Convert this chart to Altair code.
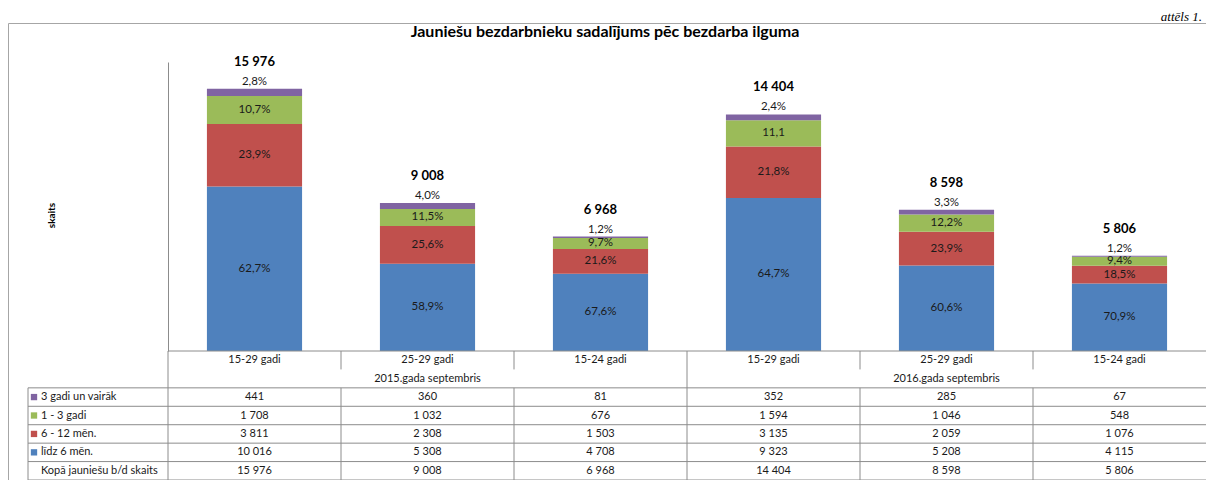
import altair as alt
import pandas as pd

FONT = "Lato"
GRID = "#8c8c8c"

title_text = "Jauniešu bezdarbnieku sadalījums pēc bezdarba ilguma"
caption_text = "attēls 1."
y_title = "skaits"

age_groups = ["15-29 gadi", "25-29 gadi", "15-24 gadi", "15-29 gadi", "25-29 gadi", "15-24 gadi"]
periods = ["2015.gada septembris", "2016.gada septembris"]

series_names = ["līdz 6 mēn.", "6 - 12 mēn.", "1 - 3 gadi", "3 gadi un vairāk"]
series_colors = ["#4F81BD", "#C0504D", "#9BBB59", "#8064A2"]

upto6 = [10016, 5308, 4708, 9323, 5208, 4115]
m6_12 = [3811, 2308, 1503, 3135, 2059, 1076]
y1_3 = [1708, 1032, 676, 1594, 1046, 548]
y3plus = [441, 360, 81, 352, 285, 67]
totals = [15976, 9008, 6968, 14404, 8598, 5806]

upto6_pct = ["62,7%", "58,9%", "67,6%", "64,7%", "60,6%", "70,9%"]
m6_12_pct = ["23,9%", "25,6%", "21,6%", "21,8%", "23,9%", "18,5%"]
y1_3_pct = ["10,7%", "11,5%", "9,7%", "11,1", "12,2%", "9,4%"]
y3plus_pct = ["2,8%", "4,0%", "1,2%", "2,4%", "3,3%", "1,2%"]

total_row_label = "Kopā jauniešu b/d skaits"


def fmt(v):
    return f"{v:,}".replace(",", " ")


keys = [str(i) for i in range(len(age_groups))]

# long data for bars
recs = []
for s_idx, (name, vals, pcts) in enumerate(zip(series_names, [upto6, m6_12, y1_3, y3plus],
                                                [upto6_pct, m6_12_pct, y1_3_pct, y3plus_pct])):
    for i in range(len(keys)):
        recs.append(dict(key=keys[i], series=name, order=s_idx, value=vals[i], pct=pcts[i]))
long_df = pd.DataFrame(recs)
tot_df = pd.DataFrame(dict(key=keys, total=totals, label=[fmt(v) for v in totals]))

W, H = 1198, 457
PLOT_LEFT = 160
BASE_Y = 328

xband = alt.Scale(domain=keys, range=[PLOT_LEFT, W], paddingInner=0.45, paddingOuter=0.225)
ybar = alt.Scale(domain=[0, 17600], range=[BASE_Y, 39], zero=True, nice=False)
cscale = alt.Scale(domain=series_names, range=series_colors)
yaxis = alt.Axis(title=y_title, labels=False, ticks=False, grid=False, domain=True,
                 domainColor=GRID, offset=-PLOT_LEFT, titlePadding=112, titleY=192,
                 titleFont=FONT, titleFontSize=10, titleFontWeight="bold", titleColor="black")

seg_kw = dict(font=FONT, fontSize=11.5, color="#1a1a1a", baseline="middle")

base = alt.Chart(long_df)
bars = base.mark_bar().encode(
    x=alt.X("key:N", scale=xband, axis=None, sort=keys),
    y=alt.Y("value:Q", stack="zero", scale=ybar, axis=yaxis),
    color=alt.Color("series:N", scale=cscale, legend=None),
    order=alt.Order("order:Q", sort="ascending"),
)
stacked = base.transform_stack(
    stack="value", groupby=["key"], sort=[alt.SortField("order", order="ascending")], as_=["y0", "y1"]
).transform_calculate(mid="(datum.y0 + datum.y1) / 2")

seg_text = stacked.transform_filter("datum.order < 3").mark_text(**seg_kw).encode(
    x=alt.X("key:N", scale=xband, axis=None, sort=keys),
    y=alt.Y("mid:Q", scale=ybar, axis=yaxis),
    text="pct:N",
)
top_text = stacked.transform_filter("datum.order == 3").mark_text(dy=-7, **seg_kw).encode(
    x=alt.X("key:N", scale=xband, axis=None, sort=keys),
    y=alt.Y("y1:Q", scale=ybar, axis=yaxis),
    text="pct:N",
)
tot_text = alt.Chart(tot_df).mark_text(
    font=FONT, fontSize=13, fontWeight="bold", color="black", baseline="middle", dy=-27
).encode(
    x=alt.X("key:N", scale=xband, axis=None, sort=keys),
    y=alt.Y("total:Q", scale=ybar, axis=yaxis),
    text="label:N",
)
bar_group = alt.layer(bars, seg_text, top_text, tot_text)

# ---------- table under the chart ----------
tx = alt.Scale(domain=[0, 6], range=[PLOT_LEFT, W], zero=False, nice=False)
ty = alt.Scale(domain=[0, 7], range=[BASE_Y, H], zero=False, nice=False)

cat_df = pd.DataFrame(dict(col=list(range(len(age_groups))), row=0, text=age_groups))
per_df = pd.DataFrame(dict(p=list(range(len(periods))), row=1, text=periods))

row_labels = ["3 gadi un vairāk", "1 - 3 gadi", "6 - 12 mēn.", "līdz 6 mēn.", total_row_label]
row_series = ["3 gadi un vairāk", "1 - 3 gadi", "6 - 12 mēn.", "līdz 6 mēn.", None]
row_values = [y3plus, y1_3, m6_12, upto6, totals]
cells = []
for r, vals in enumerate(row_values):
    for c, v in enumerate(vals):
        cells.append(dict(row=r + 2, col=c, text=fmt(v)))
cell_df = pd.DataFrame(cells)
lab_df = pd.DataFrame(dict(row=[r + 2 for r in range(len(row_labels))], text=row_labels,
                           series=row_series))

txt_kw = dict(font=FONT, fontSize=11, color="#1a1a1a", baseline="middle")

cat_text = alt.Chart(cat_df).mark_text(**txt_kw).transform_calculate(
    cx="datum.col + 0.5", cy="datum.row + 0.5"
).encode(
    x=alt.X("cx:Q", scale=tx, axis=None), y=alt.Y("cy:Q", scale=ty, axis=None), text="text:N"
)
per_text = alt.Chart(per_df).mark_text(**txt_kw).transform_calculate(
    cx="datum.p * 3 + 1.5", cy="datum.row + 0.5"
).encode(
    x=alt.X("cx:Q", scale=tx, axis=None), y=alt.Y("cy:Q", scale=ty, axis=None), text="text:N"
)
cell_text = alt.Chart(cell_df).mark_text(**txt_kw).transform_calculate(
    cx="datum.col + 0.5", cy="datum.row + 0.5"
).encode(
    x=alt.X("cx:Q", scale=tx, axis=None), y=alt.Y("cy:Q", scale=ty, axis=None), text="text:N"
)
lab_text = alt.Chart(lab_df).mark_text(align="left", **txt_kw).transform_calculate(
    cy="datum.row + 0.5"
).encode(
    x=alt.value(33), y=alt.Y("cy:Q", scale=ty, axis=None), text="text:N"
)
lab_sym = alt.Chart(lab_df).transform_filter("datum.series != null").mark_point(
    shape="square", filled=True, size=40, opacity=1
).transform_calculate(cy="datum.row + 0.5").encode(
    x=alt.value(26), y=alt.Y("cy:Q", scale=ty, axis=None),
    color=alt.Color("series:N", scale=cscale, legend=None),
)

h_top = alt.Chart(pd.DataFrame(dict(r=[0]))).mark_rule(color=GRID).encode(
    y=alt.Y("r:Q", scale=ty, axis=None),
    x=alt.X(datum=0, type="quantitative", scale=tx, axis=None),
    x2=alt.X2(datum=6),
)
h_tab = alt.Chart(pd.DataFrame(dict(r=[2, 3, 4, 5, 6, 7]))).mark_rule(color=GRID).encode(
    y=alt.Y("r:Q", scale=ty, axis=None), x=alt.value(20), x2=alt.value(W)
)
vl_df = pd.DataFrame(dict(
    col=[0, 3, 1, 2, 4, 5, 1, 2, 4, 5],
    r0=[0, 0, 0, 0, 0, 0, 2, 2, 2, 2],
    r1=[7, 7, 1, 1, 1, 1, 7, 7, 7, 7],
))
v_rules = alt.Chart(vl_df).mark_rule(color=GRID).encode(
    x=alt.X("col:Q", scale=tx, axis=None),
    y=alt.Y("r0:Q", scale=ty, axis=None),
    y2="r1:Q",
)
v_left = alt.Chart(pd.DataFrame(dict(r0=[2], r1=[7]))).mark_rule(color=GRID).encode(
    x=alt.value(20), y=alt.Y("r0:Q", scale=ty, axis=None), y2="r1:Q"
)

table_group = alt.layer(h_top, h_tab, v_rules, v_left, lab_sym, lab_text, cat_text, per_text, cell_text)

title_mark = alt.Chart(pd.DataFrame(dict(t=[title_text]))).mark_text(
    font=FONT, fontSize=16, fontWeight="bold", color="black", baseline="middle"
).encode(x=alt.value(597), y=alt.value(9), text="t:N")
caption_mark = alt.Chart(pd.DataFrame(dict(t=[caption_text]))).mark_text(
    font="Liberation Serif", fontSize=13, fontStyle="italic", color="black",
    align="right", baseline="alphabetic"
).encode(x=alt.value(1194), y=alt.value(-2), text="t:N")

chart = alt.layer(bar_group, table_group, title_mark, caption_mark).resolve_scale(
    x="independent", y="independent", color="independent"
).properties(
    width=W, height=H,
    autosize=alt.AutoSizeParams(type="none"),
    padding={"left": 0, "top": 15, "right": 0, "bottom": 0},
).configure_view(stroke="#a6a6a6", strokeWidth=1)

chart.save("out.html", embed_options={"renderer": "svg", "actions": False})
